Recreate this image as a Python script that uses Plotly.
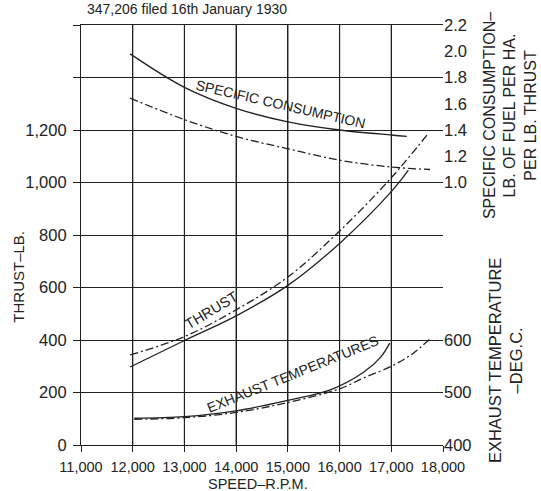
import plotly.graph_objects as go

# ---------------- data ----------------
# Thrust (lb.)
thrust_solid_rpm = [11950, 13000, 14000, 15000, 16000, 17000, 17330]
thrust_solid_val = [297, 398, 492, 608, 768, 965, 1047]
thrust_dash_rpm = [11950, 13000, 14000, 15000, 16000, 17000, 17690]
thrust_dash_val = [343, 413, 515, 640, 815, 1018, 1181]

# Specific consumption (lb. of fuel per h.a. per lb. thrust)
sc_solid_rpm = [11950, 13000, 14000, 15000, 16000, 17000, 17300]
sc_solid_val = [1.98, 1.725, 1.565, 1.462, 1.40, 1.362, 1.352]
sc_dash_rpm = [11950, 13000, 14000, 15000, 16000, 17000, 17750]
sc_dash_val = [1.643, 1.479, 1.351, 1.257, 1.17, 1.118, 1.099]

# Exhaust temperature (deg. C)
temp_solid_rpm = [12030, 13000, 14000, 15000, 15820, 16470, 16800, 16970]
temp_solid_val = [451, 454, 465, 485, 505, 539, 568, 594]
temp_dash_rpm = [12030, 13000, 14000, 15000, 16000, 16470, 17000, 17400, 17735]
temp_dash_val = [449, 452, 462, 481, 507, 528, 550, 573, 601]

x_ticks = [11000, 12000, 13000, 14000, 15000, 16000, 17000, 18000]
thrust_ticks = [0, 200, 400, 600, 800, 1000, 1200, 1400, 1600]
thrust_tick_text = ["0", "200", "400", "600", "800", "1,000", "1,200", "", ""]
sc_ticks = [1.0, 1.2, 1.4, 1.6, 1.8, 2.0, 2.2]
temp_ticks = [400, 500, 600]

FONT = "Arial, Liberation Sans, sans-serif"
NARROW = "Liberation Sans Narrow, Arial Narrow, Arial, sans-serif"
INK = "#222222"
DASHDOT = "8px,3px,2px,3px"

fig = go.Figure()

def add_line(x, y, axis, dash=None):
    fig.add_trace(go.Scatter(
        x=x, y=y, mode="lines", yaxis=axis, hoverinfo="skip",
        line=dict(color=INK, width=1.3, shape="spline", smoothing=1.0,
                  dash=dash if dash else "solid"),
    ))

add_line(thrust_solid_rpm, thrust_solid_val, "y")
add_line(thrust_dash_rpm, thrust_dash_val, "y", DASHDOT)
add_line(sc_solid_rpm, sc_solid_val, "y2")
add_line(sc_dash_rpm, sc_dash_val, "y2", DASHDOT)
add_line(temp_solid_rpm, temp_solid_val, "y3")
add_line(temp_dash_rpm, temp_dash_val, "y3", DASHDOT)

tickfont_y = dict(family=FONT, size=16.5, color=INK)

fig.update_layout(
    width=541, height=491,
    margin=dict(l=81, r=98, t=25, b=46, autoexpand=False),
    paper_bgcolor="white", plot_bgcolor="white",
    showlegend=False,
    font=dict(family=FONT, color=INK),
    xaxis=dict(
        range=[11000, 18000], tickvals=x_ticks, tickformat=",d",
        ticks="outside", ticklen=6, tickcolor=INK, tickwidth=1.2,
        showline=True, linecolor=INK, linewidth=1.2, mirror=True,
        showgrid=True, gridcolor=INK, gridwidth=1.2, zeroline=False,
        tickfont=dict(family=FONT, size=14.5, color=INK),
        ticklabelstandoff=2, automargin=False,
    ),
    yaxis=dict(
        range=[0, 1600], tickvals=thrust_ticks, ticktext=thrust_tick_text,
        ticks="outside", ticklen=7, tickcolor=INK, tickwidth=1.2,
        showline=True, linecolor=INK, linewidth=1.2,
        showgrid=True, gridcolor=INK, gridwidth=1.2, zeroline=False,
        tickfont=tickfont_y, ticklabelstandoff=3, automargin=False,
    ),
    yaxis2=dict(
        range=[-1.0, 2.2], tickvals=sc_ticks, tickformat=".1f",
        overlaying="y", side="right", ticks="", showline=False,
        showgrid=False, zeroline=False, tickfont=tickfont_y,
        ticklabelstandoff=0, automargin=False,
    ),
    yaxis3=dict(
        range=[400, 1200], tickvals=temp_ticks,
        overlaying="y", side="right", ticks="", showline=False,
        showgrid=False, zeroline=False, tickfont=tickfont_y,
        ticklabelstandoff=0, automargin=False,
    ),
    yaxis4=dict(
        range=[0, 1600], tickvals=thrust_ticks, overlaying="y", side="right",
        ticks="outside", ticklen=4, tickcolor=INK, tickwidth=1.2,
        showticklabels=False, showline=True, linecolor=INK, linewidth=1.2,
        showgrid=False, zeroline=False, automargin=False,
    ),
)

# vertical grid lines at each speed tick (drawn through the x scale)
for xv in x_ticks[1:-1]:
    fig.add_shape(type="line", xref="x", yref="paper", x0=xv, x1=xv, y0=0, y1=1,
                  line=dict(color=INK, width=1.2), layer="above")

annotations = [
    # header
    dict(text="347,206 filed 16th January 1930", xref="paper", yref="paper",
         x=0.0124, y=1.037, xanchor="left", yanchor="middle",
         font=dict(size=14)),
    # axis titles
    dict(text="THRUST–LB.", xref="paper", yref="paper", x=-0.175, y=0.40,
         textangle=-90, font=dict(size=15, family=NARROW)),
    dict(text="SPEED–R.P.M.", xref="paper", yref="paper", x=0.489, y=-0.093,
         font=dict(size=14.5)),
    dict(text="SPECIFIC CONSUMPTION–<br>LB. OF FUEL PER HA.<br>PER LB. THRUST",
         xref="paper", yref="paper", x=1.186, y=0.784, textangle=-90,
         font=dict(size=16)),
    dict(text="EXHAUST TEMPERATURE<br>–DEG.C.", xref="paper", yref="paper",
         x=1.171, y=0.202, textangle=-90, font=dict(size=16.5)),
    # curve labels
    dict(text="SPECIFIC CONSUMPTION", xref="x", yref="y", x=14850, y=1300,
         textangle=13, font=dict(size=14)),
    dict(text="THRUST", xref="x", yref="y", x=13530, y=514,
         textangle=-31, font=dict(size=14.5)),
    dict(text="EXHAUST TEMPERATURES", xref="x", yref="y", x=15100, y=270,
         textangle=-22, font=dict(size=14)),
]
for a in annotations:
    a.setdefault("showarrow", False)
    a.setdefault("xanchor", "center")
    a.setdefault("yanchor", "middle")
    a["font"].setdefault("family", FONT)
    a["font"].setdefault("color", INK)
fig.update_layout(annotations=annotations)

fig.write_html(
    "out.html",
    config={"displayModeBar": False},
    post_script="document.body.style.margin='0';document.body.style.overflow='hidden';",
)
